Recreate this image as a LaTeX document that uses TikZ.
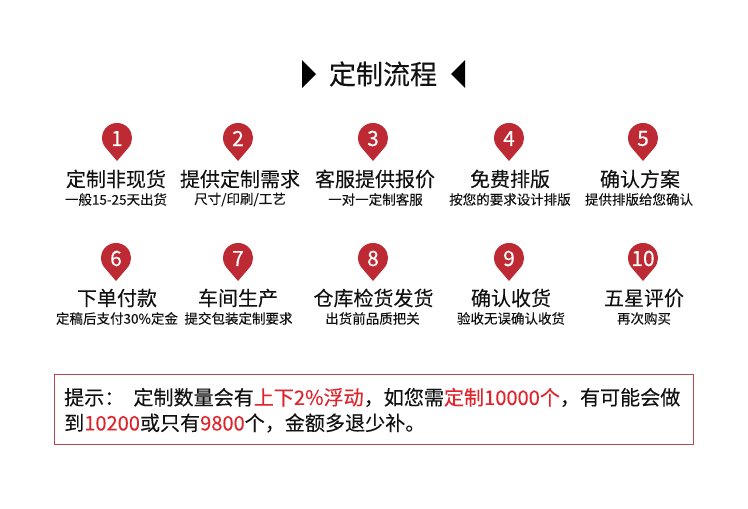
\documentclass[tikz,border=0pt]{standalone}
\usepackage{fontspec}
\setmainfont[FakeBold=0.15]{Noto Sans CJK SC}
\usetikzlibrary{positioning}
\definecolor{pinRed}{HTML}{BE2A33}
\definecolor{noteRed}{HTML}{E0242C}
\definecolor{boxRed}{HTML}{B8474E}
\definecolor{inkGrey}{HTML}{111111}
\newcommand{\hlred}[1]{\textcolor{noteRed}{#1}}
\tikzset{
  headlbl/.style = {font=\fontsize{27}{27}\selectfont, text=inkGrey, inner sep=0pt},
  steplbl/.style = {font=\fontsize{20}{20}\selectfont, text=inkGrey, inner sep=0pt},
  sublbl/.style  = {font=\fontsize{13.5}{13.5}\selectfont, text=inkGrey, inner sep=0pt},
  pinnum/.style  = {font=\fontsize{21}{21}\selectfont, text=white, inner sep=0pt},
  notelbl/.style = {font=\fontsize{20.07}{20.07}\selectfont, text=inkGrey, inner sep=0pt, anchor=west},
  pinfill/.style = {fill=pinRed, draw=none},
  headtip/.style = {fill=black, draw=none},
}
\begin{document}
\begin{tikzpicture}[x=1pt, y=-1pt]
  \useasboundingbox (0,0) rectangle (748,509);
  % heading with its two triangles
  \node[headlbl] (head) at (383,74) {定制流程};
  \fill[headtip] (302,60) -- (316,74) -- (302,88) -- cycle;
  \fill[headtip] (465,60) -- (451,74) -- (465,88) -- cycle;
  % upper row of steps: pin x, title x, small text x
  \foreach \x/\tx/\sx/\n/\t/\s in {117/116/116/1/定制非现货/一般15-25天出货,
                           238/240/240/2/提供定制需求/{尺寸/印刷/工艺},
                           373/375/375.5/3/客服提供报价/一对一定制客服,
                           509/510/510/4/免费排版/按您的要求设计排版,
                           643/640/639/5/确认方案/提供排版给您确认}{
    \fill[pinfill] (\x-11.3,147.8) arc[start angle=139, end angle=401, radius=15] -- (\x,161) -- cycle;
    \node[pinnum]  (pin\n)  at (\x,138.5) {\n};
    \node[steplbl] (step\n) at (\tx,179) {\t};
    \node[sublbl]  (sub\n)  at (\sx,199.5) {\s};
  }
  % lower row of steps
  \foreach \x/\tx/\sx/\n/\t/\s in {116/117/117/6/下单付款/定稿后支付30\%定金,
                           238/238/238.5/7/车间生产/提交包装定制要求,
                           373/373.5/372.5/8/仓库检货发货/出货前品质把关,
                           509/511/511/9/确认收货/验收无误确认收货,
                           643/644/644/10/五星评价/再次购买}{
    \fill[pinfill] (\x-11.3,267.8) arc[start angle=139, end angle=401, radius=15] -- (\x,281) -- cycle;
    \node[pinnum]  (pin\n)  at (\x,258.5) {\n};
    \node[steplbl] (step\n) at (\tx,298) {\t};
    \node[sublbl]  (sub\n)  at (\sx,318.5) {\s};
  }
  % note box
  \draw[boxRed, line width=1pt] (54.5,374.5) rectangle (693,444);
  \node[notelbl] (note1) at (64,397.5) {提示：\hspace{9pt}定制数量会有\hlred{上下2\%浮动}，如您需\hlred{定制10000个}，有可能会做};
  \node[notelbl] (note2) at (64,423) {到\hlred{10200}或只有\hlred{9800}个，金额多退少补。};
\end{tikzpicture}
\end{document}
